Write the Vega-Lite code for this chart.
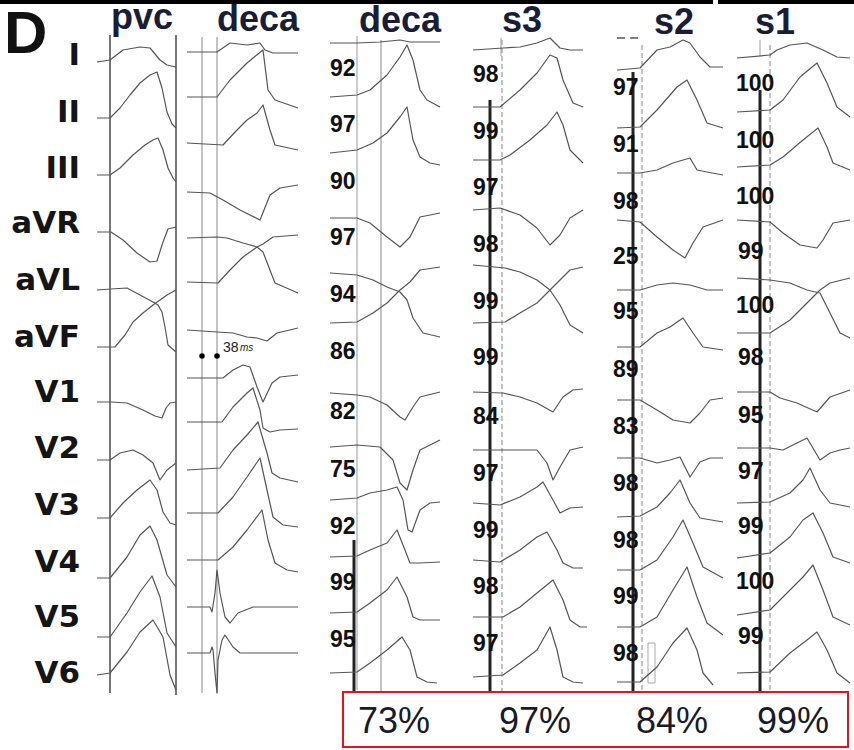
{
"$schema":"https://vega.github.io/schema/vega-lite/v6.json",
"width":854,"height":750,"padding":0,
"autosize":{"type":"fit","contains":"padding"},
"background":"white",
"config":{"view":{"stroke":null}},
"datasets":{
"bars":[{"x":0,"x2":713,"y":0,"y2":4},{"x":718,"x2":854,"y":0,"y2":4}],
"vl":[
{"x":110,"y":35,"y2":693,"k":"dark"},{"x":176,"y":35,"y2":695,"k":"dark"},
{"x":202,"y":37,"y2":693,"k":"light"},{"x":217,"y":37,"y2":693,"k":"light"},
{"x":357,"y":36,"y2":690,"k":"thin"},{"x":381,"y":40,"y2":692,"k":"light"},
{"x":354,"y":540,"y2":692,"k":"thick"},
{"x":490,"y":100,"y2":692,"k":"thick"},{"x":502,"y":40,"y2":692,"k":"dash"},
{"x":633,"y":72,"y2":692,"k":"thick"},{"x":642,"y":45,"y2":692,"k":"dash"},
{"x":760,"y":90,"y2":692,"k":"thick"},{"x":770,"y":45,"y2":692,"k":"dash"},
{"x":760,"y":40,"y2":56,"k":"thin"},{"x":501,"y":38,"y2":56,"k":"thin"}
],
"hd":[{"x":617,"x2":638,"y":38}],
"boxes":[{"x":648,"x2":655,"y":643,"y2":683,"k":"g"}],
"red":[{"x":343,"x2":848,"y":692,"y2":747}],
"tr":[
{"s":"p0","x":97,"y":62},{"s":"p0","x":110,"y":60},{"s":"p0","x":123,"y":50},{"s":"p0","x":140,"y":47},{"s":"p0","x":150,"y":48},{"s":"p0","x":160,"y":60},{"s":"p0","x":167,"y":65},{"s":"p0","x":176,"y":67},
{"s":"p1","x":97,"y":118},{"s":"p1","x":110,"y":118},{"s":"p1","x":120,"y":108},{"s":"p1","x":130,"y":95},{"s":"p1","x":140,"y":83},{"s":"p1","x":150,"y":75},{"s":"p1","x":157,"y":72},{"s":"p1","x":162,"y":88},{"s":"p1","x":167,"y":112},{"s":"p1","x":172,"y":124},{"s":"p1","x":176,"y":128},
{"s":"p2","x":97,"y":175},{"s":"p2","x":110,"y":175},{"s":"p2","x":120,"y":168},{"s":"p2","x":133,"y":155},{"s":"p2","x":145,"y":145},{"s":"p2","x":153,"y":140},{"s":"p2","x":158,"y":138},{"s":"p2","x":163,"y":150},{"s":"p2","x":168,"y":168},{"s":"p2","x":173,"y":178},{"s":"p2","x":176,"y":182},
{"s":"p3","x":97,"y":232},{"s":"p3","x":111,"y":232},{"s":"p3","x":123,"y":240},{"s":"p3","x":137,"y":253},{"s":"p3","x":150,"y":262},{"s":"p3","x":157,"y":261},{"s":"p3","x":163,"y":242},{"s":"p3","x":168,"y":229},{"s":"p3","x":176,"y":227},
{"s":"p4","x":97,"y":290},{"s":"p4","x":111,"y":289},{"s":"p4","x":127,"y":288},{"s":"p4","x":140,"y":295},{"s":"p4","x":153,"y":302},{"s":"p4","x":158,"y":305},{"s":"p4","x":162,"y":312},{"s":"p4","x":165,"y":327},{"s":"p4","x":168,"y":345},{"s":"p4","x":176,"y":352},
{"s":"p5","x":97,"y":347},{"s":"p5","x":115,"y":347},{"s":"p5","x":125,"y":335},{"s":"p5","x":133,"y":322},{"s":"p5","x":143,"y":313},{"s":"p5","x":153,"y":305},{"s":"p5","x":160,"y":300},{"s":"p5","x":167,"y":295},{"s":"p5","x":176,"y":290},
{"s":"p6","x":97,"y":402},{"s":"p6","x":111,"y":402},{"s":"p6","x":127,"y":403},{"s":"p6","x":143,"y":410},{"s":"p6","x":155,"y":416},{"s":"p6","x":162,"y":418},{"s":"p6","x":166,"y":408},{"s":"p6","x":170,"y":403},{"s":"p6","x":176,"y":402},
{"s":"p7","x":97,"y":460},{"s":"p7","x":110,"y":460},{"s":"p7","x":120,"y":453},{"s":"p7","x":133,"y":450},{"s":"p7","x":143,"y":455},{"s":"p7","x":153,"y":463},{"s":"p7","x":160,"y":480},{"s":"p7","x":167,"y":470},{"s":"p7","x":176,"y":463},
{"s":"p8","x":97,"y":518},{"s":"p8","x":110,"y":518},{"s":"p8","x":123,"y":503},{"s":"p8","x":137,"y":490},{"s":"p8","x":150,"y":480},{"s":"p8","x":157,"y":490},{"s":"p8","x":163,"y":512},{"s":"p8","x":170,"y":523},{"s":"p8","x":176,"y":525},
{"s":"p9","x":97,"y":578},{"s":"p9","x":110,"y":578},{"s":"p9","x":127,"y":557},{"s":"p9","x":140,"y":535},{"s":"p9","x":150,"y":526},{"s":"p9","x":157,"y":540},{"s":"p9","x":167,"y":575},{"s":"p9","x":176,"y":587},
{"s":"p10","x":97,"y":637},{"s":"p10","x":110,"y":637},{"s":"p10","x":127,"y":613},{"s":"p10","x":140,"y":592},{"s":"p10","x":152,"y":576},{"s":"p10","x":160,"y":597},{"s":"p10","x":167,"y":633},{"s":"p10","x":176,"y":647},
{"s":"p11","x":97,"y":675},{"s":"p11","x":110,"y":673},{"s":"p11","x":127,"y":652},{"s":"p11","x":140,"y":632},{"s":"p11","x":153,"y":620},{"s":"p11","x":163,"y":637},{"s":"p11","x":170,"y":675},{"s":"p11","x":176,"y":690},

{"s":"d0","x":187,"y":52},{"s":"d0","x":217,"y":52},{"s":"d0","x":230,"y":43},{"s":"d0","x":247,"y":45},{"s":"d0","x":260,"y":43},{"s":"d0","x":265,"y":50},{"s":"d0","x":273,"y":53},{"s":"d0","x":298,"y":53},
{"s":"d1","x":187,"y":97},{"s":"d1","x":217,"y":97},{"s":"d1","x":230,"y":80},{"s":"d1","x":247,"y":63},{"s":"d1","x":258,"y":54},{"s":"d1","x":263,"y":50},{"s":"d1","x":268,"y":90},{"s":"d1","x":275,"y":100},{"s":"d1","x":298,"y":108},
{"s":"d2","x":187,"y":143},{"s":"d2","x":223,"y":145},{"s":"d2","x":237,"y":130},{"s":"d2","x":247,"y":120},{"s":"d2","x":257,"y":113},{"s":"d2","x":263,"y":105},{"s":"d2","x":270,"y":130},{"s":"d2","x":275,"y":145},{"s":"d2","x":298,"y":150},
{"s":"d3","x":187,"y":192},{"s":"d3","x":210,"y":193},{"s":"d3","x":223,"y":200},{"s":"d3","x":240,"y":210},{"s":"d3","x":260,"y":220},{"s":"d3","x":270,"y":195},{"s":"d3","x":280,"y":188},{"s":"d3","x":298,"y":185},
{"s":"d4","x":187,"y":238},{"s":"d4","x":217,"y":237},{"s":"d4","x":227,"y":238},{"s":"d4","x":243,"y":243},{"s":"d4","x":257,"y":247},{"s":"d4","x":263,"y":252},{"s":"d4","x":268,"y":265},{"s":"d4","x":275,"y":283},{"s":"d4","x":298,"y":293},
{"s":"d5","x":187,"y":282},{"s":"d5","x":218,"y":283},{"s":"d5","x":230,"y":270},{"s":"d5","x":243,"y":257},{"s":"d5","x":257,"y":247},{"s":"d5","x":263,"y":244},{"s":"d5","x":273,"y":237},{"s":"d5","x":298,"y":235},
{"s":"d6","x":187,"y":330},{"s":"d6","x":217,"y":332},{"s":"d6","x":233,"y":333},{"s":"d6","x":247,"y":337},{"s":"d6","x":257,"y":338},{"s":"d6","x":267,"y":341},{"s":"d6","x":277,"y":333},{"s":"d6","x":298,"y":328},
{"s":"d7","x":187,"y":378},{"s":"d7","x":223,"y":378},{"s":"d7","x":233,"y":370},{"s":"d7","x":243,"y":365},{"s":"d7","x":250,"y":367},{"s":"d7","x":257,"y":387},{"s":"d7","x":263,"y":402},{"s":"d7","x":272,"y":383},{"s":"d7","x":280,"y":377},{"s":"d7","x":298,"y":375},
{"s":"d8","x":187,"y":422},{"s":"d8","x":222,"y":422},{"s":"d8","x":233,"y":407},{"s":"d8","x":247,"y":393},{"s":"d8","x":253,"y":388},{"s":"d8","x":260,"y":410},{"s":"d8","x":263,"y":428},{"s":"d8","x":270,"y":432},{"s":"d8","x":280,"y":430},{"s":"d8","x":298,"y":429},
{"s":"d9","x":187,"y":470},{"s":"d9","x":220,"y":468},{"s":"d9","x":233,"y":450},{"s":"d9","x":247,"y":435},{"s":"d9","x":258,"y":422},{"s":"d9","x":267,"y":453},{"s":"d9","x":272,"y":473},{"s":"d9","x":280,"y":478},{"s":"d9","x":298,"y":482},
{"s":"d10","x":187,"y":513},{"s":"d10","x":218,"y":513},{"s":"d10","x":233,"y":497},{"s":"d10","x":247,"y":477},{"s":"d10","x":260,"y":458},{"s":"d10","x":267,"y":490},{"s":"d10","x":273,"y":517},{"s":"d10","x":283,"y":525},{"s":"d10","x":298,"y":527},
{"s":"d11","x":187,"y":560},{"s":"d11","x":218,"y":560},{"s":"d11","x":233,"y":547},{"s":"d11","x":247,"y":530},{"s":"d11","x":262,"y":510},{"s":"d11","x":268,"y":540},{"s":"d11","x":275,"y":563},{"s":"d11","x":287,"y":570},{"s":"d11","x":298,"y":572},
{"s":"d12","x":187,"y":607},{"s":"d12","x":210,"y":607},{"s":"d12","x":212,"y":612},{"s":"d12","x":215,"y":593},{"s":"d12","x":217,"y":570},{"s":"d12","x":220,"y":593},{"s":"d12","x":225,"y":617},{"s":"d12","x":230,"y":623},{"s":"d12","x":238,"y":613},{"s":"d12","x":253,"y":607},{"s":"d12","x":298,"y":607},
{"s":"d13","x":187,"y":653},{"s":"d13","x":210,"y":653},{"s":"d13","x":212,"y":647},{"s":"d13","x":213,"y":650},{"s":"d13","x":215,"y":673},{"s":"d13","x":217,"y":693},{"s":"d13","x":218,"y":660},{"s":"d13","x":222,"y":640},{"s":"d13","x":225,"y":635},{"s":"d13","x":233,"y":647},{"s":"d13","x":240,"y":653},{"s":"d13","x":298,"y":653},

{"s":"e0","x":330,"y":43},{"s":"e0","x":357,"y":43},{"s":"e0","x":380,"y":42},{"s":"e0","x":400,"y":40},{"s":"e0","x":410,"y":42},{"s":"e0","x":440,"y":42},
{"s":"e1","x":330,"y":97},{"s":"e1","x":357,"y":95},{"s":"e1","x":370,"y":90},{"s":"e1","x":387,"y":75},{"s":"e1","x":400,"y":57},{"s":"e1","x":407,"y":45},{"s":"e1","x":413,"y":60},{"s":"e1","x":420,"y":90},{"s":"e1","x":427,"y":100},{"s":"e1","x":440,"y":107},
{"s":"e2","x":330,"y":153},{"s":"e2","x":357,"y":150},{"s":"e2","x":373,"y":143},{"s":"e2","x":387,"y":133},{"s":"e2","x":400,"y":117},{"s":"e2","x":407,"y":107},{"s":"e2","x":413,"y":140},{"s":"e2","x":420,"y":157},{"s":"e2","x":430,"y":163},{"s":"e2","x":440,"y":165},
{"s":"e3","x":330,"y":218},{"s":"e3","x":357,"y":218},{"s":"e3","x":370,"y":223},{"s":"e3","x":387,"y":237},{"s":"e3","x":400,"y":247},{"s":"e3","x":410,"y":237},{"s":"e3","x":420,"y":217},{"s":"e3","x":440,"y":213},
{"s":"e4","x":330,"y":273},{"s":"e4","x":357,"y":275},{"s":"e4","x":373,"y":280},{"s":"e4","x":387,"y":287},{"s":"e4","x":400,"y":292},{"s":"e4","x":407,"y":300},{"s":"e4","x":413,"y":318},{"s":"e4","x":423,"y":333},{"s":"e4","x":440,"y":337},
{"s":"e5","x":330,"y":323},{"s":"e5","x":357,"y":322},{"s":"e5","x":373,"y":313},{"s":"e5","x":387,"y":303},{"s":"e5","x":400,"y":290},{"s":"e5","x":410,"y":282},{"s":"e5","x":420,"y":270},{"s":"e5","x":440,"y":267},
{"s":"e6","x":330,"y":393},{"s":"e6","x":357,"y":395},{"s":"e6","x":370,"y":397},{"s":"e6","x":387,"y":405},{"s":"e6","x":400,"y":417},{"s":"e6","x":405,"y":420},{"s":"e6","x":413,"y":407},{"s":"e6","x":420,"y":397},{"s":"e6","x":440,"y":392},
{"s":"e7","x":330,"y":447},{"s":"e7","x":357,"y":445},{"s":"e7","x":380,"y":447},{"s":"e7","x":393,"y":460},{"s":"e7","x":400,"y":483},{"s":"e7","x":407,"y":490},{"s":"e7","x":413,"y":470},{"s":"e7","x":420,"y":450},{"s":"e7","x":440,"y":440},
{"s":"e8","x":330,"y":500},{"s":"e8","x":357,"y":498},{"s":"e8","x":370,"y":493},{"s":"e8","x":387,"y":490},{"s":"e8","x":397,"y":487},{"s":"e8","x":403,"y":500},{"s":"e8","x":408,"y":530},{"s":"e8","x":412,"y":532},{"s":"e8","x":420,"y":510},{"s":"e8","x":430,"y":503},{"s":"e8","x":440,"y":502},
{"s":"e9","x":330,"y":557},{"s":"e9","x":357,"y":556},{"s":"e9","x":370,"y":550},{"s":"e9","x":387,"y":543},{"s":"e9","x":397,"y":530},{"s":"e9","x":403,"y":545},{"s":"e9","x":410,"y":563},{"s":"e9","x":420,"y":563},{"s":"e9","x":440,"y":562},
{"s":"e10","x":330,"y":613},{"s":"e10","x":357,"y":612},{"s":"e10","x":370,"y":603},{"s":"e10","x":387,"y":590},{"s":"e10","x":397,"y":577},{"s":"e10","x":407,"y":597},{"s":"e10","x":413,"y":617},{"s":"e10","x":420,"y":620},{"s":"e10","x":440,"y":620},
{"s":"e11","x":330,"y":673},{"s":"e11","x":357,"y":672},{"s":"e11","x":370,"y":663},{"s":"e11","x":387,"y":650},{"s":"e11","x":402,"y":637},{"s":"e11","x":410,"y":650},{"s":"e11","x":417,"y":677},{"s":"e11","x":427,"y":682},{"s":"e11","x":437,"y":683},

{"s":"a0","x":473,"y":50},{"s":"a0","x":503,"y":48},{"s":"a0","x":520,"y":47},{"s":"a0","x":537,"y":43},{"s":"a0","x":550,"y":38},{"s":"a0","x":560,"y":48},{"s":"a0","x":570,"y":50},{"s":"a0","x":583,"y":50},
{"s":"a1","x":473,"y":107},{"s":"a1","x":500,"y":107},{"s":"a1","x":520,"y":90},{"s":"a1","x":537,"y":73},{"s":"a1","x":550,"y":55},{"s":"a1","x":557,"y":58},{"s":"a1","x":563,"y":80},{"s":"a1","x":573,"y":103},{"s":"a1","x":583,"y":107},
{"s":"a2","x":473,"y":160},{"s":"a2","x":500,"y":160},{"s":"a2","x":510,"y":155},{"s":"a2","x":530,"y":140},{"s":"a2","x":547,"y":125},{"s":"a2","x":557,"y":112},{"s":"a2","x":563,"y":125},{"s":"a2","x":570,"y":150},{"s":"a2","x":583,"y":163},
{"s":"a3","x":473,"y":210},{"s":"a3","x":500,"y":208},{"s":"a3","x":520,"y":215},{"s":"a3","x":537,"y":228},{"s":"a3","x":550,"y":245},{"s":"a3","x":560,"y":235},{"s":"a3","x":570,"y":218},{"s":"a3","x":583,"y":210},
{"s":"a4","x":473,"y":265},{"s":"a4","x":505,"y":268},{"s":"a4","x":520,"y":272},{"s":"a4","x":537,"y":280},{"s":"a4","x":550,"y":290},{"s":"a4","x":560,"y":305},{"s":"a4","x":570,"y":325},{"s":"a4","x":583,"y":333},
{"s":"a5","x":473,"y":323},{"s":"a5","x":505,"y":322},{"s":"a5","x":520,"y":313},{"s":"a5","x":537,"y":303},{"s":"a5","x":550,"y":290},{"s":"a5","x":560,"y":280},{"s":"a5","x":570,"y":270},{"s":"a5","x":583,"y":267},
{"s":"a6","x":473,"y":392},{"s":"a6","x":503,"y":393},{"s":"a6","x":520,"y":397},{"s":"a6","x":537,"y":403},{"s":"a6","x":553,"y":412},{"s":"a6","x":563,"y":397},{"s":"a6","x":573,"y":390},{"s":"a6","x":583,"y":389},
{"s":"a7","x":473,"y":450},{"s":"a7","x":500,"y":450},{"s":"a7","x":537,"y":450},{"s":"a7","x":547,"y":463},{"s":"a7","x":553,"y":480},{"s":"a7","x":560,"y":467},{"s":"a7","x":570,"y":450},{"s":"a7","x":583,"y":447},
{"s":"a8","x":473,"y":503},{"s":"a8","x":500,"y":505},{"s":"a8","x":520,"y":497},{"s":"a8","x":537,"y":487},{"s":"a8","x":543,"y":482},{"s":"a8","x":553,"y":500},{"s":"a8","x":560,"y":513},{"s":"a8","x":570,"y":508},{"s":"a8","x":583,"y":507},
{"s":"a9","x":473,"y":560},{"s":"a9","x":500,"y":562},{"s":"a9","x":520,"y":550},{"s":"a9","x":537,"y":537},{"s":"a9","x":547,"y":532},{"s":"a9","x":557,"y":550},{"s":"a9","x":563,"y":563},{"s":"a9","x":573,"y":568},{"s":"a9","x":583,"y":568},
{"s":"a10","x":473,"y":617},{"s":"a10","x":503,"y":617},{"s":"a10","x":520,"y":607},{"s":"a10","x":537,"y":593},{"s":"a10","x":553,"y":580},{"s":"a10","x":563,"y":600},{"s":"a10","x":570,"y":620},{"s":"a10","x":580,"y":627},{"s":"a10","x":587,"y":627},
{"s":"a11","x":473,"y":677},{"s":"a11","x":503,"y":675},{"s":"a11","x":520,"y":663},{"s":"a11","x":537,"y":650},{"s":"a11","x":550,"y":627},{"s":"a11","x":557,"y":650},{"s":"a11","x":563,"y":677},{"s":"a11","x":573,"y":682},{"s":"a11","x":583,"y":683},

{"s":"b0","x":617,"y":70},{"s":"b0","x":640,"y":68},{"s":"b0","x":657,"y":50},{"s":"b0","x":670,"y":47},{"s":"b0","x":683,"y":40},{"s":"b0","x":690,"y":43},{"s":"b0","x":700,"y":57},{"s":"b0","x":710,"y":67},{"s":"b0","x":723,"y":67},
{"s":"b1","x":617,"y":128},{"s":"b1","x":640,"y":127},{"s":"b1","x":657,"y":110},{"s":"b1","x":677,"y":87},{"s":"b1","x":687,"y":80},{"s":"b1","x":697,"y":100},{"s":"b1","x":707,"y":123},{"s":"b1","x":723,"y":128},
{"s":"b2","x":617,"y":173},{"s":"b2","x":640,"y":173},{"s":"b2","x":657,"y":170},{"s":"b2","x":673,"y":163},{"s":"b2","x":690,"y":158},{"s":"b2","x":697,"y":170},{"s":"b2","x":707,"y":172},{"s":"b2","x":723,"y":175},
{"s":"b3","x":617,"y":220},{"s":"b3","x":640,"y":222},{"s":"b3","x":657,"y":237},{"s":"b3","x":673,"y":250},{"s":"b3","x":685,"y":258},{"s":"b3","x":693,"y":243},{"s":"b3","x":703,"y":227},{"s":"b3","x":723,"y":220},
{"s":"b4","x":617,"y":290},{"s":"b4","x":640,"y":290},{"s":"b4","x":657,"y":285},{"s":"b4","x":673,"y":283},{"s":"b4","x":690,"y":285},{"s":"b4","x":707,"y":290},{"s":"b4","x":723,"y":290},
{"s":"b5","x":617,"y":347},{"s":"b5","x":640,"y":347},{"s":"b5","x":657,"y":333},{"s":"b5","x":670,"y":327},{"s":"b5","x":683,"y":318},{"s":"b5","x":693,"y":333},{"s":"b5","x":703,"y":347},{"s":"b5","x":723,"y":350},
{"s":"b6","x":617,"y":400},{"s":"b6","x":640,"y":400},{"s":"b6","x":657,"y":410},{"s":"b6","x":673,"y":420},{"s":"b6","x":690,"y":423},{"s":"b6","x":700,"y":413},{"s":"b6","x":710,"y":400},{"s":"b6","x":723,"y":398},
{"s":"b7","x":617,"y":458},{"s":"b7","x":640,"y":458},{"s":"b7","x":657,"y":463},{"s":"b7","x":670,"y":460},{"s":"b7","x":680,"y":457},{"s":"b7","x":690,"y":477},{"s":"b7","x":700,"y":462},{"s":"b7","x":710,"y":458},{"s":"b7","x":723,"y":458},
{"s":"b8","x":617,"y":517},{"s":"b8","x":640,"y":516},{"s":"b8","x":657,"y":507},{"s":"b8","x":670,"y":493},{"s":"b8","x":680,"y":480},{"s":"b8","x":690,"y":503},{"s":"b8","x":700,"y":518},{"s":"b8","x":723,"y":522},
{"s":"b9","x":617,"y":570},{"s":"b9","x":640,"y":570},{"s":"b9","x":657,"y":560},{"s":"b9","x":673,"y":537},{"s":"b9","x":683,"y":520},{"s":"b9","x":693,"y":543},{"s":"b9","x":703,"y":567},{"s":"b9","x":723,"y":578},
{"s":"b10","x":617,"y":627},{"s":"b10","x":640,"y":627},{"s":"b10","x":657,"y":617},{"s":"b10","x":673,"y":590},{"s":"b10","x":687,"y":567},{"s":"b10","x":697,"y":597},{"s":"b10","x":707,"y":623},{"s":"b10","x":723,"y":635},
{"s":"b11","x":617,"y":682},{"s":"b11","x":640,"y":682},{"s":"b11","x":657,"y":667},{"s":"b11","x":673,"y":643},{"s":"b11","x":687,"y":628},{"s":"b11","x":697,"y":650},{"s":"b11","x":703,"y":673},{"s":"b11","x":713,"y":685},

{"s":"c0","x":737,"y":58},{"s":"c0","x":770,"y":55},{"s":"c0","x":777,"y":50},{"s":"c0","x":790,"y":45},{"s":"c0","x":807,"y":43},{"s":"c0","x":823,"y":50},{"s":"c0","x":837,"y":57},{"s":"c0","x":850,"y":58},
{"s":"c1","x":737,"y":112},{"s":"c1","x":770,"y":110},{"s":"c1","x":783,"y":100},{"s":"c1","x":800,"y":77},{"s":"c1","x":817,"y":63},{"s":"c1","x":827,"y":83},{"s":"c1","x":837,"y":107},{"s":"c1","x":850,"y":117},
{"s":"c2","x":737,"y":167},{"s":"c2","x":770,"y":165},{"s":"c2","x":783,"y":157},{"s":"c2","x":803,"y":140},{"s":"c2","x":818,"y":128},{"s":"c2","x":827,"y":147},{"s":"c2","x":833,"y":163},{"s":"c2","x":850,"y":170},
{"s":"c3","x":737,"y":220},{"s":"c3","x":770,"y":222},{"s":"c3","x":783,"y":233},{"s":"c3","x":800,"y":245},{"s":"c3","x":817,"y":248},{"s":"c3","x":823,"y":240},{"s":"c3","x":833,"y":223},{"s":"c3","x":850,"y":220},
{"s":"c4","x":737,"y":278},{"s":"c4","x":770,"y":280},{"s":"c4","x":790,"y":283},{"s":"c4","x":807,"y":290},{"s":"c4","x":820,"y":293},{"s":"c4","x":830,"y":313},{"s":"c4","x":840,"y":333},{"s":"c4","x":850,"y":338},
{"s":"c5","x":737,"y":333},{"s":"c5","x":770,"y":333},{"s":"c5","x":790,"y":320},{"s":"c5","x":807,"y":303},{"s":"c5","x":820,"y":290},{"s":"c5","x":830,"y":283},{"s":"c5","x":850,"y":278},
{"s":"c6","x":737,"y":392},{"s":"c6","x":770,"y":392},{"s":"c6","x":780,"y":398},{"s":"c6","x":797,"y":403},{"s":"c6","x":817,"y":412},{"s":"c6","x":830,"y":397},{"s":"c6","x":850,"y":390},
{"s":"c7","x":737,"y":448},{"s":"c7","x":770,"y":448},{"s":"c7","x":783,"y":450},{"s":"c7","x":797,"y":443},{"s":"c7","x":807,"y":438},{"s":"c7","x":820,"y":460},{"s":"c7","x":830,"y":453},{"s":"c7","x":840,"y":450},{"s":"c7","x":850,"y":448},
{"s":"c8","x":737,"y":503},{"s":"c8","x":770,"y":502},{"s":"c8","x":790,"y":493},{"s":"c8","x":803,"y":480},{"s":"c8","x":810,"y":468},{"s":"c8","x":820,"y":490},{"s":"c8","x":830,"y":503},{"s":"c8","x":850,"y":507},
{"s":"c9","x":737,"y":558},{"s":"c9","x":770,"y":553},{"s":"c9","x":790,"y":537},{"s":"c9","x":803,"y":520},{"s":"c9","x":813,"y":513},{"s":"c9","x":823,"y":533},{"s":"c9","x":833,"y":557},{"s":"c9","x":850,"y":563},
{"s":"c10","x":737,"y":615},{"s":"c10","x":770,"y":610},{"s":"c10","x":790,"y":590},{"s":"c10","x":803,"y":577},{"s":"c10","x":813,"y":565},{"s":"c10","x":823,"y":590},{"s":"c10","x":833,"y":617},{"s":"c10","x":850,"y":625},
{"s":"c11","x":737,"y":673},{"s":"c11","x":770,"y":672},{"s":"c11","x":790,"y":653},{"s":"c11","x":807,"y":640},{"s":"c11","x":817,"y":632},{"s":"c11","x":827,"y":650},{"s":"c11","x":837,"y":673},{"s":"c11","x":850,"y":683}
],
"dots":[{"x":202,"y":356},{"x":217,"y":356}],
"leads":[{"t":"I","x":80,"y":65},{"t":"II","x":80,"y":122},{"t":"III","x":80,"y":178},{"t":"aVR","x":80,"y":233},{"t":"aVL","x":80,"y":290},{"t":"aVF","x":80,"y":347},{"t":"V1","x":80,"y":402},{"t":"V2","x":80,"y":458},{"t":"V3","x":80,"y":515},{"t":"V4","x":80,"y":572},{"t":"V5","x":80,"y":627},{"t":"V6","x":80,"y":683}],
"titles":[{"t":"pvc","x":142,"y":29},{"t":"deca","x":258,"y":31},{"t":"deca","x":400,"y":32},{"t":"s3","x":522,"y":32},{"t":"s2","x":674,"y":34},{"t":"s1","x":775,"y":34}],
"nums":[
{"t":"92","x":330,"y":69},{"t":"97","x":330,"y":125},{"t":"90","x":330,"y":182},{"t":"97","x":330,"y":238},{"t":"94","x":330,"y":295},{"t":"86","x":330,"y":352},{"t":"82","x":330,"y":412},{"t":"75","x":330,"y":470},{"t":"92","x":330,"y":527},{"t":"99","x":330,"y":583},{"t":"95","x":330,"y":640},
{"t":"98","x":473,"y":75},{"t":"99","x":473,"y":132},{"t":"97","x":473,"y":188},{"t":"98","x":473,"y":245},{"t":"99","x":473,"y":302},{"t":"99","x":473,"y":358},{"t":"84","x":473,"y":417},{"t":"97","x":473,"y":474},{"t":"99","x":473,"y":531},{"t":"98","x":473,"y":587},{"t":"97","x":473,"y":644},
{"t":"97","x":613,"y":88},{"t":"91","x":613,"y":145},{"t":"98","x":613,"y":202},{"t":"25","x":613,"y":257},{"t":"95","x":613,"y":312},{"t":"89","x":613,"y":370},{"t":"83","x":613,"y":427},{"t":"98","x":613,"y":484},{"t":"98","x":613,"y":541},{"t":"99","x":613,"y":597},{"t":"98","x":613,"y":654},
{"t":"100","x":736,"y":84},{"t":"100","x":736,"y":141},{"t":"100","x":736,"y":197},{"t":"99","x":738,"y":252},{"t":"100","x":736,"y":306},{"t":"98","x":738,"y":358},{"t":"95","x":738,"y":416},{"t":"97","x":738,"y":472},{"t":"99","x":738,"y":527},{"t":"100","x":736,"y":582},{"t":"99","x":738,"y":637}
],
"pct":[{"t":"73%","x":394,"y":733},{"t":"97%","x":535,"y":733},{"t":"84%","x":672,"y":733},{"t":"99%","x":793,"y":733}],
"big":[{"t":"D","x":4,"y":53}],
"ms38":[{"t":"38","x":223,"y":352}],
"ms":[{"t":"ms","x":240,"y":351}]
},
"encoding":{
"x":{"field":"x","type":"quantitative","scale":{"domain":[0,854],"nice":false,"zero":false},"axis":null},
"y":{"field":"y","type":"quantitative","scale":{"domain":[0,750],"nice":false,"zero":false,"reverse":true},"axis":null}
},
"layer":[
{"data":{"name":"bars"},"mark":{"type":"rect","color":"#000"},"encoding":{"x2":{"field":"x2"},"y2":{"field":"y2"}}},
{"data":{"name":"vl"},"transform":[{"filter":"datum.k=='dark'"}],"mark":{"type":"rule","color":"#555","strokeWidth":1.6},"encoding":{"y2":{"field":"y2"}}},
{"data":{"name":"vl"},"transform":[{"filter":"datum.k=='light'"}],"mark":{"type":"rule","color":"#b5b5b5","strokeWidth":1.6},"encoding":{"y2":{"field":"y2"}}},
{"data":{"name":"vl"},"transform":[{"filter":"datum.k=='thin'"}],"mark":{"type":"rule","color":"#999","strokeWidth":1},"encoding":{"y2":{"field":"y2"}}},
{"data":{"name":"vl"},"transform":[{"filter":"datum.k=='dash'"}],"mark":{"type":"rule","color":"#9a9a9a","strokeWidth":1.2,"strokeDash":[5,3]},"encoding":{"y2":{"field":"y2"}}},
{"data":{"name":"vl"},"transform":[{"filter":"datum.k=='thick'"}],"mark":{"type":"rule","color":"#222","strokeWidth":3},"encoding":{"y2":{"field":"y2"}}},
{"data":{"name":"hd"},"mark":{"type":"rule","color":"#555","strokeWidth":1.5,"strokeDash":[8,5]},"encoding":{"x2":{"field":"x2"}}},
{"data":{"name":"boxes"},"mark":{"type":"rect","fill":null,"stroke":"#aaa","strokeWidth":1},"encoding":{"x2":{"field":"x2"},"y2":{"field":"y2"}}},
{"data":{"name":"tr"},"mark":{"type":"line","color":"#555","strokeWidth":1.2,"strokeJoin":"round"},"encoding":{"detail":{"field":"s","type":"nominal"},"order":{"value":null}}},
{"data":{"name":"dots"},"mark":{"type":"point","filled":true,"color":"#000","size":30,"opacity":1}},
{"data":{"name":"leads"},"mark":{"type":"text","align":"right","baseline":"alphabetic","font":"DejaVu Sans","fontWeight":"bold","fontSize":31,"color":"#151515"},"encoding":{"text":{"field":"t"}}},
{"data":{"name":"big"},"mark":{"type":"text","align":"left","baseline":"alphabetic","font":"Liberation Sans","fontWeight":"bold","fontSize":60,"color":"#111"},"encoding":{"text":{"field":"t"}}},
{"data":{"name":"titles"},"mark":{"type":"text","align":"center","baseline":"alphabetic","font":"Liberation Sans","fontWeight":"bold","fontSize":36,"color":"#1a1d35"},"encoding":{"text":{"field":"t"}}},
{"data":{"name":"nums"},"mark":{"type":"text","align":"left","baseline":"middle","font":"Liberation Sans","fontWeight":"bold","fontSize":23,"color":"#111"},"encoding":{"text":{"field":"t"}}},
{"data":{"name":"ms38"},"mark":{"type":"text","align":"left","baseline":"alphabetic","font":"Liberation Sans","fontSize":14,"color":"#222"},"encoding":{"text":{"field":"t"}}},
{"data":{"name":"ms"},"mark":{"type":"text","align":"left","baseline":"alphabetic","font":"Liberation Sans","fontStyle":"italic","fontSize":10,"color":"#222"},"encoding":{"text":{"field":"t"}}},
{"data":{"name":"red"},"mark":{"type":"rect","fill":null,"stroke":"#e3141c","strokeWidth":2},"encoding":{"x2":{"field":"x2"},"y2":{"field":"y2"}}},
{"data":{"name":"pct"},"mark":{"type":"text","align":"center","baseline":"alphabetic","font":"Liberation Sans","fontSize":36,"color":"#1a1a28"},"encoding":{"text":{"field":"t"}}}
]
}
